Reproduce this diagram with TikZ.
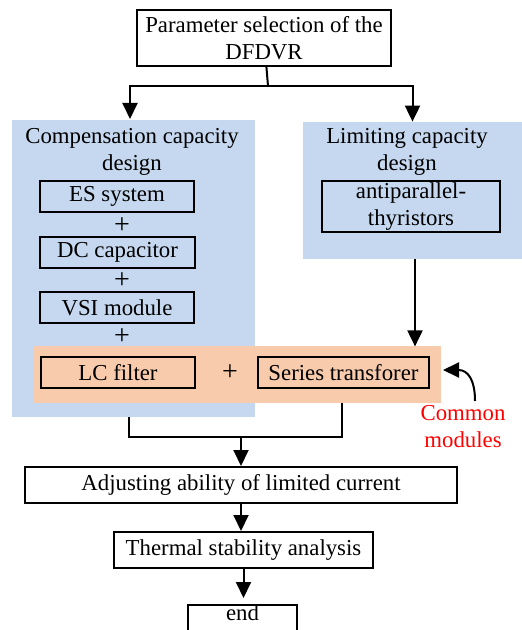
\documentclass[tikz,border=0pt]{standalone}
\usepackage{fontspec}
\setmainfont{Liberation Serif}
\usetikzlibrary{positioning,arrows.meta}
\definecolor{zoneblue}{RGB}{197,216,239}
\definecolor{zoneorange}{RGB}{248,203,173}

\begin{document}
\begin{tikzpicture}[
        x=0.5pt, y=-0.5pt,
        font=\fontsize{11.4}{13.5}\selectfont,
        box/.style={rectangle, draw=black, line width=1pt, inner sep=0pt, align=center},
        zone/.style={rectangle, draw=none, inner sep=0pt},
        plussign/.style={font=\fontsize{14}{14}\selectfont, inner sep=0pt},
        conn/.style={line width=1pt},
        >={Triangle[width=7.5pt, length=8pt]}
    ]
    \useasboundingbox (0,0) rectangle (522,630);

    % Shaded zones
    \node[zone, fill=zoneblue, minimum width=121.5pt, minimum height=148.5pt] (compzone) at (133.5,268.5) {};
    \node[zone, fill=zoneblue, minimum width=109.5pt, minimum height=68.5pt] (limitzone) at (412.5,190.5) {};
    \node[zone, fill=zoneorange, minimum width=203.5pt, minimum height=28.5pt] (commonzone) at (237.5,374.5) {};

    % Top
    \node[box, minimum width=127pt, minimum height=28pt] (top) at (264,38) {Parameter selection of the\\DFDVR};

    % Left zone - Compensation capacity
    \node[align=center, inner sep=0pt] (comptitle) at (132,151.5) {Compensation capacity\\design};
    \node[box, minimum width=77pt, minimum height=15.5pt] (es) at (117,196.5) {ES system};
    \node[plussign] (p1) at (122,226) {+};
    \node[box, minimum width=77.5pt, minimum height=15.5pt] (dc) at (117.5,252.5) {DC capacitor};
    \node[plussign] (p2) at (122,281) {+};
    \node[box, minimum width=77pt, minimum height=15.5pt] (vsi) at (117,307.5) {VSI module};
    \node[plussign] (p3) at (122,337) {+};

    % Right zone - Limiting capacity
    \node[align=center, inner sep=0pt] (limittitle) at (407,151.5) {Limiting capacity\\design};
    \node[box, minimum width=89pt, minimum height=25.5pt] (thyr) at (411,206.5) {antiparallel-\\thyristors};

    % Common modules
    \node[box, minimum width=77pt, minimum height=15.5pt] (lc) at (118,372.5) {LC filter};
    \node[plussign] (p4) at (230,373) {+};
    \node[box, minimum width=85.5pt, minimum height=15.5pt] (series) at (343.5,372.5) {Series transforer};
    \node[align=center, inner sep=0pt, text=red] (commtext) at (463,427) {Common\\modules};

    % Bottom chain
    \node[box, minimum width=216pt, minimum height=18pt] (adjust) at (241,485) {Adjusting ability of limited current};
    \node[box, minimum width=129.5pt, minimum height=18pt] (thermal) at (243.5,550) {Thermal stability analysis};
    \node[box, minimum width=54.5pt, text height=7.5pt, text depth=10.5pt, anchor=north] (endbox) at (242.5,604) {end};

    % Connectors
    \coordinate (split) at (268,86);
    \coordinate (leftin) at (130,119);
    \draw[conn] (top) -- (split);
    \draw[conn, ->] (split) -| (leftin);
    \draw[conn, ->] (split) -| (limitzone.north);
    \draw[conn, ->] (limitzone.south -| thyr.north) ++(4,0) -- ++(0,87);

    \coordinate (cmstart) at (475,401);
    \coordinate (cmend) at (443,370);
    \draw[conn, ->] (cmstart) .. controls (475,380) and (468,370) .. (cmend);

    \coordinate (jl) at (129,437);
    \coordinate (jr) at (342,437);
    \draw[conn] (compzone.south -| jl) -- (jl) -- (jr) -- (commonzone.south -| jr);
    \draw[conn, ->] (adjust.north |- jl) -- (adjust);
    \draw[conn, ->] (adjust.south) -- (adjust.south |- thermal.north);
    \draw[conn, ->, shorten >=3pt] (thermal.south) -- (thermal.south |- endbox.north);
\end{tikzpicture}
\end{document}
